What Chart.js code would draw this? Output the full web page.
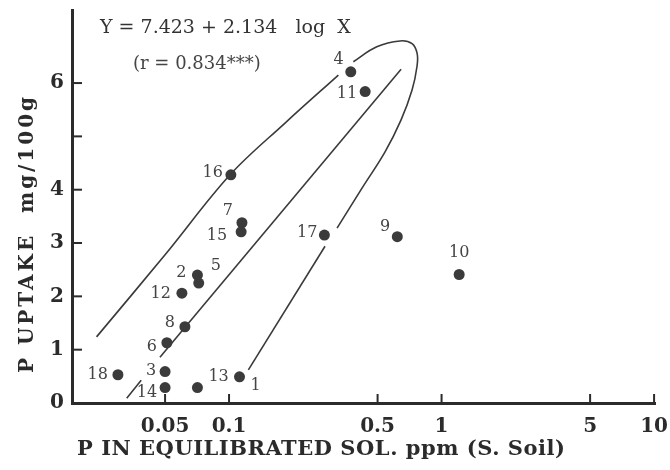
<!DOCTYPE html>
<html>
<head>
<meta charset="utf-8">
<script src="https://cdn.jsdelivr.net/npm/chart.js@4.4.1/dist/chart.umd.min.js"></script>
<style>
  html, body { margin: 0; padding: 0; background: #fff; }
  #wrap { position: relative; width: 670px; height: 470px; }
</style>
</head>
<body>
<div id="wrap"><canvas id="chartUptake"></canvas></div>
<script>
/* ------------------------------------------------------------
   DATOS
   ------------------------------------------------------------ */
const pointIds = ['1', '2', '3', '4', '5', '6', '7', '8', '9', '10', '11', '12', '13', '14', '15', '16', '17', '18'];
const pointX   = [0.112, 0.071, 0.050, 0.374, 0.072, 0.051, 0.115, 0.062, 0.619, 1.21, 0.437, 0.060, 0.071, 0.050, 0.114, 0.102, 0.281, 0.030];
const pointY   = [0.49, 2.40, 0.59, 6.21, 2.25, 1.13, 3.38, 1.43, 3.12, 2.41, 5.84, 2.06, 0.29, 0.29, 3.21, 4.28, 3.15, 0.53];

// envolvente: rama superior izquierda
const upperX = [0.0238, 0.0500, 0.1011, 0.1834, 0.3269];
const upperY = [1.24, 2.78, 4.28, 5.25, 6.15];
// envolvente: bucle superior y rama derecha
const loopX = [0.3846, 0.4955, 0.6378, 0.7264, 0.7669, 0.7669, 0.7264, 0.6449, 0.5421, 0.4224, 0.3223];
const loopY = [6.40, 6.68, 6.79, 6.74, 6.56, 6.32, 5.87, 5.31, 4.71, 4.03, 3.28];
const lowerX = [0.2829, 0.1233];
const lowerY = [2.94, 0.62];
// recta de regresión (tramo continuo y tramo discontinuo)
const regX  = [0.0473, 0.6449];
const regY  = [0.86, 6.26];
const dashX = [0.0330, 0.0473];
const dashY = [0.09, 0.86];

const xTickValues = [0.05, 0.1, 0.5, 1, 5, 10];
const yTickValues = [0, 1, 2, 3, 4, 5, 6];
const yTickLabels = ['0', '1', '2', '3', '4', '', '6'];

const equationText = 'Y = 7.423 + 2.134   log  X';
const rText  = '(r = 0.834***)';
const xTitle = 'P IN EQUILIBRATED SOL. ppm (S. Soil)';
const yTitle = 'P UPTAKE  mg/100g';

/* ------------------------------------------------------------
   ESTILO
   ------------------------------------------------------------ */
const INK = '#2b2b2b';
const BOLD = 'bold 20px "DejaVu Serif"';
// desplazamiento de cada etiqueta respecto a su punto: [dx, dy, align]
const labelOffsets = [
  [11, 9, 'left'], [-11, -2, 'right'], [-9, -1, 'right'], [-7, -12, 'right'], [12, -17, 'left'],
  [-10, 4, 'right'], [-9, -12, 'right'], [-10, -4, 'right'], [-7, -10, 'right'], [0, -22, 'center'],
  [-8, 2, 'right'], [-11, 1, 'right'], [11, -11, 'left'], [-8, 5, 'right'], [-14, 4, 'right'],
  [-8, -2, 'right'], [-7, -2, 'right'], [-10, 0, 'right'],
];

const toXY = (xs, ys) => xs.map((x, i) => ({ x, y: ys[i] }));

const lineStyle = {
  showLine: true, pointRadius: 0, borderColor: '#3a3a3a', borderWidth: 1.6, fill: false,
};

/* ------------------------------------------------------------
   PLUGINS
   ------------------------------------------------------------ */
const pointLabels = {
  id: 'pointLabels',
  afterDatasetsDraw(chart) {
    const { ctx } = chart;
    const meta = chart.getDatasetMeta(0);
    ctx.save();
    ctx.font = '16px "DejaVu Serif"';
    ctx.fillStyle = '#444';
    ctx.textBaseline = 'middle';
    meta.data.forEach((el, i) => {
      const [dx, dy, align] = labelOffsets[i];
      ctx.textAlign = align;
      ctx.fillText(pointIds[i], el.x + dx, el.y + dy);
    });
    ctx.restore();
  },
};

function spacedText(ctx, text, x, y, target) {
  ctx.letterSpacing = '0px';
  const w = ctx.measureText(text).width;
  ctx.letterSpacing = ((target - w) / (text.length - 1)) + 'px';
  ctx.fillText(text, x, y);
  ctx.letterSpacing = '0px';
}

const decorations = {
  id: 'decorations',
  afterDraw(chart) {
    const { ctx, scales: { x, y } } = chart;
    ctx.save();
    // ticks hacia dentro
    ctx.strokeStyle = INK;
    ctx.lineWidth = 2;
    xTickValues.forEach(v => {
      const px = x.getPixelForValue(v);
      ctx.beginPath(); ctx.moveTo(px, y.bottom); ctx.lineTo(px, y.bottom - 9); ctx.stroke();
    });
    yTickValues.forEach(v => {
      const py = y.getPixelForValue(v);
      ctx.beginPath(); ctx.moveTo(x.left, py); ctx.lineTo(x.left + 10, py); ctx.stroke();
    });

    // ecuación
    ctx.fillStyle = '#333';
    ctx.textBaseline = 'middle';
    ctx.textAlign = 'left';
    ctx.font = '19px "DejaVu Serif"';
    ctx.fillText(equationText, 100, 28);
    ctx.font = '18px "DejaVu Serif"';
    ctx.fillStyle = '#444';
    ctx.fillText(rText, 133, 64);

    // títulos de ejes
    ctx.fillStyle = INK;
    ctx.font = 'bold 21px "DejaVu Serif"';
    spacedText(ctx, xTitle, 77, 450, 488);

    ctx.translate(28, 373);
    ctx.rotate(-Math.PI / 2);
    ctx.font = BOLD;
    spacedText(ctx, yTitle, 0, 0, 276);
    ctx.restore();
  },
};

/* ------------------------------------------------------------
   GRÁFICO
   ------------------------------------------------------------ */
new Chart(document.getElementById('chartUptake'), {
  type: 'scatter',
  data: {
    datasets: [
      { data: toXY(pointX, pointY), pointRadius: 5.5, backgroundColor: '#3b3b3b', borderWidth: 0 },
      { ...lineStyle, data: toXY(upperX, upperY), tension: 0.35 },
      { ...lineStyle, data: toXY(loopX, loopY), tension: 0.4 },
      { ...lineStyle, data: toXY(lowerX, lowerY), tension: 0 },
      { ...lineStyle, data: toXY(regX, regY), tension: 0 },
      { ...lineStyle, data: toXY(dashX, dashY), tension: 0, borderDash: [23, 30] },
    ],
  },
  options: {
    responsive: true,
    maintainAspectRatio: false,
    animation: false,
    events: [],
    layout: { padding: { top: 10, right: 15, bottom: 0, left: 0 } },
    plugins: { legend: { display: false }, tooltip: { enabled: false } },
    scales: {
      x: {
        type: 'logarithmic',
        min: 0.01824,
        max: 10.1,
        grid: { display: false, drawTicks: false },
        border: { color: INK, width: 3 },
        afterBuildTicks: s => { s.ticks = xTickValues.map(v => ({ value: v })); },
        afterFit: s => { s.height = 67; s.paddingLeft = 0; s.paddingRight = 0; },
        ticks: {
          autoSkip: false, maxRotation: 0, padding: 12, color: INK,
          font: { family: 'DejaVu Serif', weight: 'bold', size: 20 },
          callback: v => String(v),
        },
      },
      y: {
        type: 'linear',
        min: 0,
        max: 7.37,
        grid: { display: false, drawTicks: false },
        border: { color: INK, width: 3 },
        afterBuildTicks: s => { s.ticks = yTickValues.map(v => ({ value: v })); },
        afterFit: s => { s.width = 72; s.paddingTop = 0; s.paddingBottom = 0; },
        ticks: {
          autoSkip: false, padding: 8, color: INK,
          font: { family: 'DejaVu Serif', weight: 'bold', size: 20 },
          callback: (v, i) => yTickLabels[i],
        },
      },
    },
  },
  plugins: [pointLabels, decorations],
});
</script>
</body>
</html>
